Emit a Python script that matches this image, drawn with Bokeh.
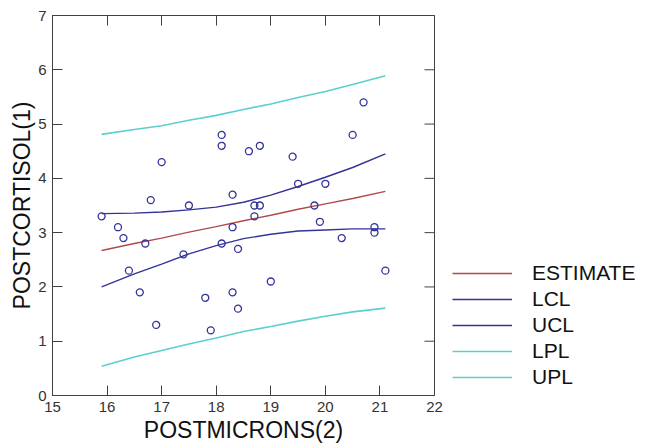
from bokeh.plotting import figure
from bokeh.models import (Range1d, LinearAxis, FixedTicker, Legend, LegendItem,
                          CustomJSTickFormatter)
from bokeh.embed import file_html
from bokeh.resources import INLINE

# Scatter data
postmicrons = [15.9, 16.2, 16.3, 16.4, 16.6, 16.7, 16.8, 16.9, 17.0, 17.4,
               17.5, 17.8, 17.9, 18.1, 18.1, 18.1, 18.3, 18.3, 18.3, 18.4,
               18.4, 18.6, 18.7, 18.7, 18.8, 18.8, 19.0, 19.4, 19.5, 19.8,
               19.9, 20.0, 20.3, 20.5, 20.7, 20.9, 20.9, 21.1]
postcortisol = [3.3, 3.1, 2.9, 2.3, 1.9, 2.8, 3.6, 1.3, 4.3, 2.6,
                3.5, 1.8, 1.2, 4.8, 4.6, 2.8, 3.1, 3.7, 1.9, 2.7,
                1.6, 4.5, 3.5, 3.3, 4.6, 3.5, 2.1, 4.4, 3.9, 3.5,
                3.2, 3.9, 2.9, 4.8, 5.4, 3.1, 3.0, 2.3]

# Fitted line and bands
curve_x = [15.9, 16.5, 17.0, 17.5, 18.0, 18.5, 19.0, 19.5, 20.0, 20.5, 21.1]
estimate = [2.67, 2.80, 2.90, 3.01, 3.11, 3.22, 3.32, 3.43, 3.53, 3.63, 3.76]
lcl = [2.00, 2.24, 2.42, 2.61, 2.76, 2.89, 2.97, 3.03, 3.05, 3.07, 3.07]
ucl = [3.35, 3.36, 3.38, 3.42, 3.47, 3.56, 3.69, 3.85, 4.02, 4.20, 4.45]
lpl = [0.54, 0.71, 0.83, 0.95, 1.06, 1.18, 1.27, 1.37, 1.46, 1.54, 1.61]
upl = [4.81, 4.90, 4.97, 5.07, 5.16, 5.27, 5.37, 5.49, 5.60, 5.73, 5.89]

x_ticks = [15, 16, 17, 18, 19, 20, 21, 22]
y_ticks = [0, 1, 2, 3, 4, 5, 6, 7]

FONT = "Liberation Sans"
AX = "#404040"
RED = "#b04a4a"
NAVY = "#33339a"
CYAN = "#5ccfcf"

p = figure(frame_width=382, frame_height=380,
           output_backend="svg", toolbar_location=None,
           x_range=Range1d(15, 22), y_range=Range1d(0, 7),
           min_border_left=52, min_border_right=0, min_border_top=15,
           min_border_bottom=44)
p.grid.visible = False
p.outline_line_color = AX
p.background_fill_color = None
p.border_fill_color = None

for ax in (p.xaxis[0], p.yaxis[0]):
    ax.major_tick_in = 10
    ax.major_tick_out = 0
    ax.minor_tick_line_color = None
    ax.axis_line_color = AX
    ax.major_tick_line_color = AX
    ax.major_label_text_font = FONT
    ax.major_label_text_font_size = "15px"
    ax.major_label_text_color = "#333333"
    ax.axis_label_text_font = FONT
    ax.axis_label_text_font_size = "23px"
    ax.axis_label_text_font_style = "normal"
    ax.axis_label_text_color = "#111111"

p.xaxis[0].ticker = FixedTicker(ticks=x_ticks)
p.yaxis[0].ticker = FixedTicker(ticks=y_ticks)
p.xaxis[0].axis_label = "POSTMICRONS(2)"
p.yaxis[0].axis_label = "POSTCORTISOL(1)"
p.xaxis[0].major_label_standoff = 6
p.xaxis[0].axis_label_standoff = 2
p.yaxis[0].major_label_standoff = 6
p.yaxis[0].axis_label_standoff = 0

blank = CustomJSTickFormatter(code="return ''")
top = LinearAxis(ticker=FixedTicker(ticks=x_ticks[1:-1]), formatter=blank)
top.major_tick_in = 10
top.major_tick_out = 0
top.minor_tick_line_color = None
top.axis_line_color = AX
top.major_tick_line_color = AX
top.major_label_standoff = 0
top.major_label_text_font_size = "1px"
p.add_layout(top, "above")

# inward ticks on the right edge (outer half falls outside the frame)
right_ticks = y_ticks[1:-1]
p.scatter([x_ticks[-1]] * len(right_ticks), right_ticks, marker="dash",
          size=20, line_color=AX, line_width=1)

r_upl = p.line(curve_x, upl, line_color=CYAN, line_width=1.6)
r_lpl = p.line(curve_x, lpl, line_color=CYAN, line_width=1.6)
r_ucl = p.line(curve_x, ucl, line_color=NAVY, line_width=1.4)
r_lcl = p.line(curve_x, lcl, line_color=NAVY, line_width=1.4)
r_est = p.line(curve_x, estimate, line_color=RED, line_width=1.4)
p.scatter(postmicrons, postcortisol, marker="circle", size=7,
          fill_color=None, line_color=NAVY, line_width=1.3)

legend = Legend(items=[LegendItem(label="ESTIMATE", renderers=[r_est]),
                       LegendItem(label="LCL", renderers=[r_lcl]),
                       LegendItem(label="UCL", renderers=[r_ucl]),
                       LegendItem(label="LPL", renderers=[r_lpl]),
                       LegendItem(label="UPL", renderers=[r_upl])],
                location=(18, 5))
legend.border_line_color = None
legend.background_fill_alpha = 0
legend.padding = 0
legend.margin = 18
legend.spacing = 0
legend.glyph_width = 60
legend.glyph_height = 26
legend.label_height = 26
legend.label_standoff = 20
legend.label_text_font = FONT
legend.label_text_font_size = "21px"
legend.label_text_color = "#111111"
p.add_layout(legend, "right")

open("out.html", "w").write(file_html(p, INLINE))
